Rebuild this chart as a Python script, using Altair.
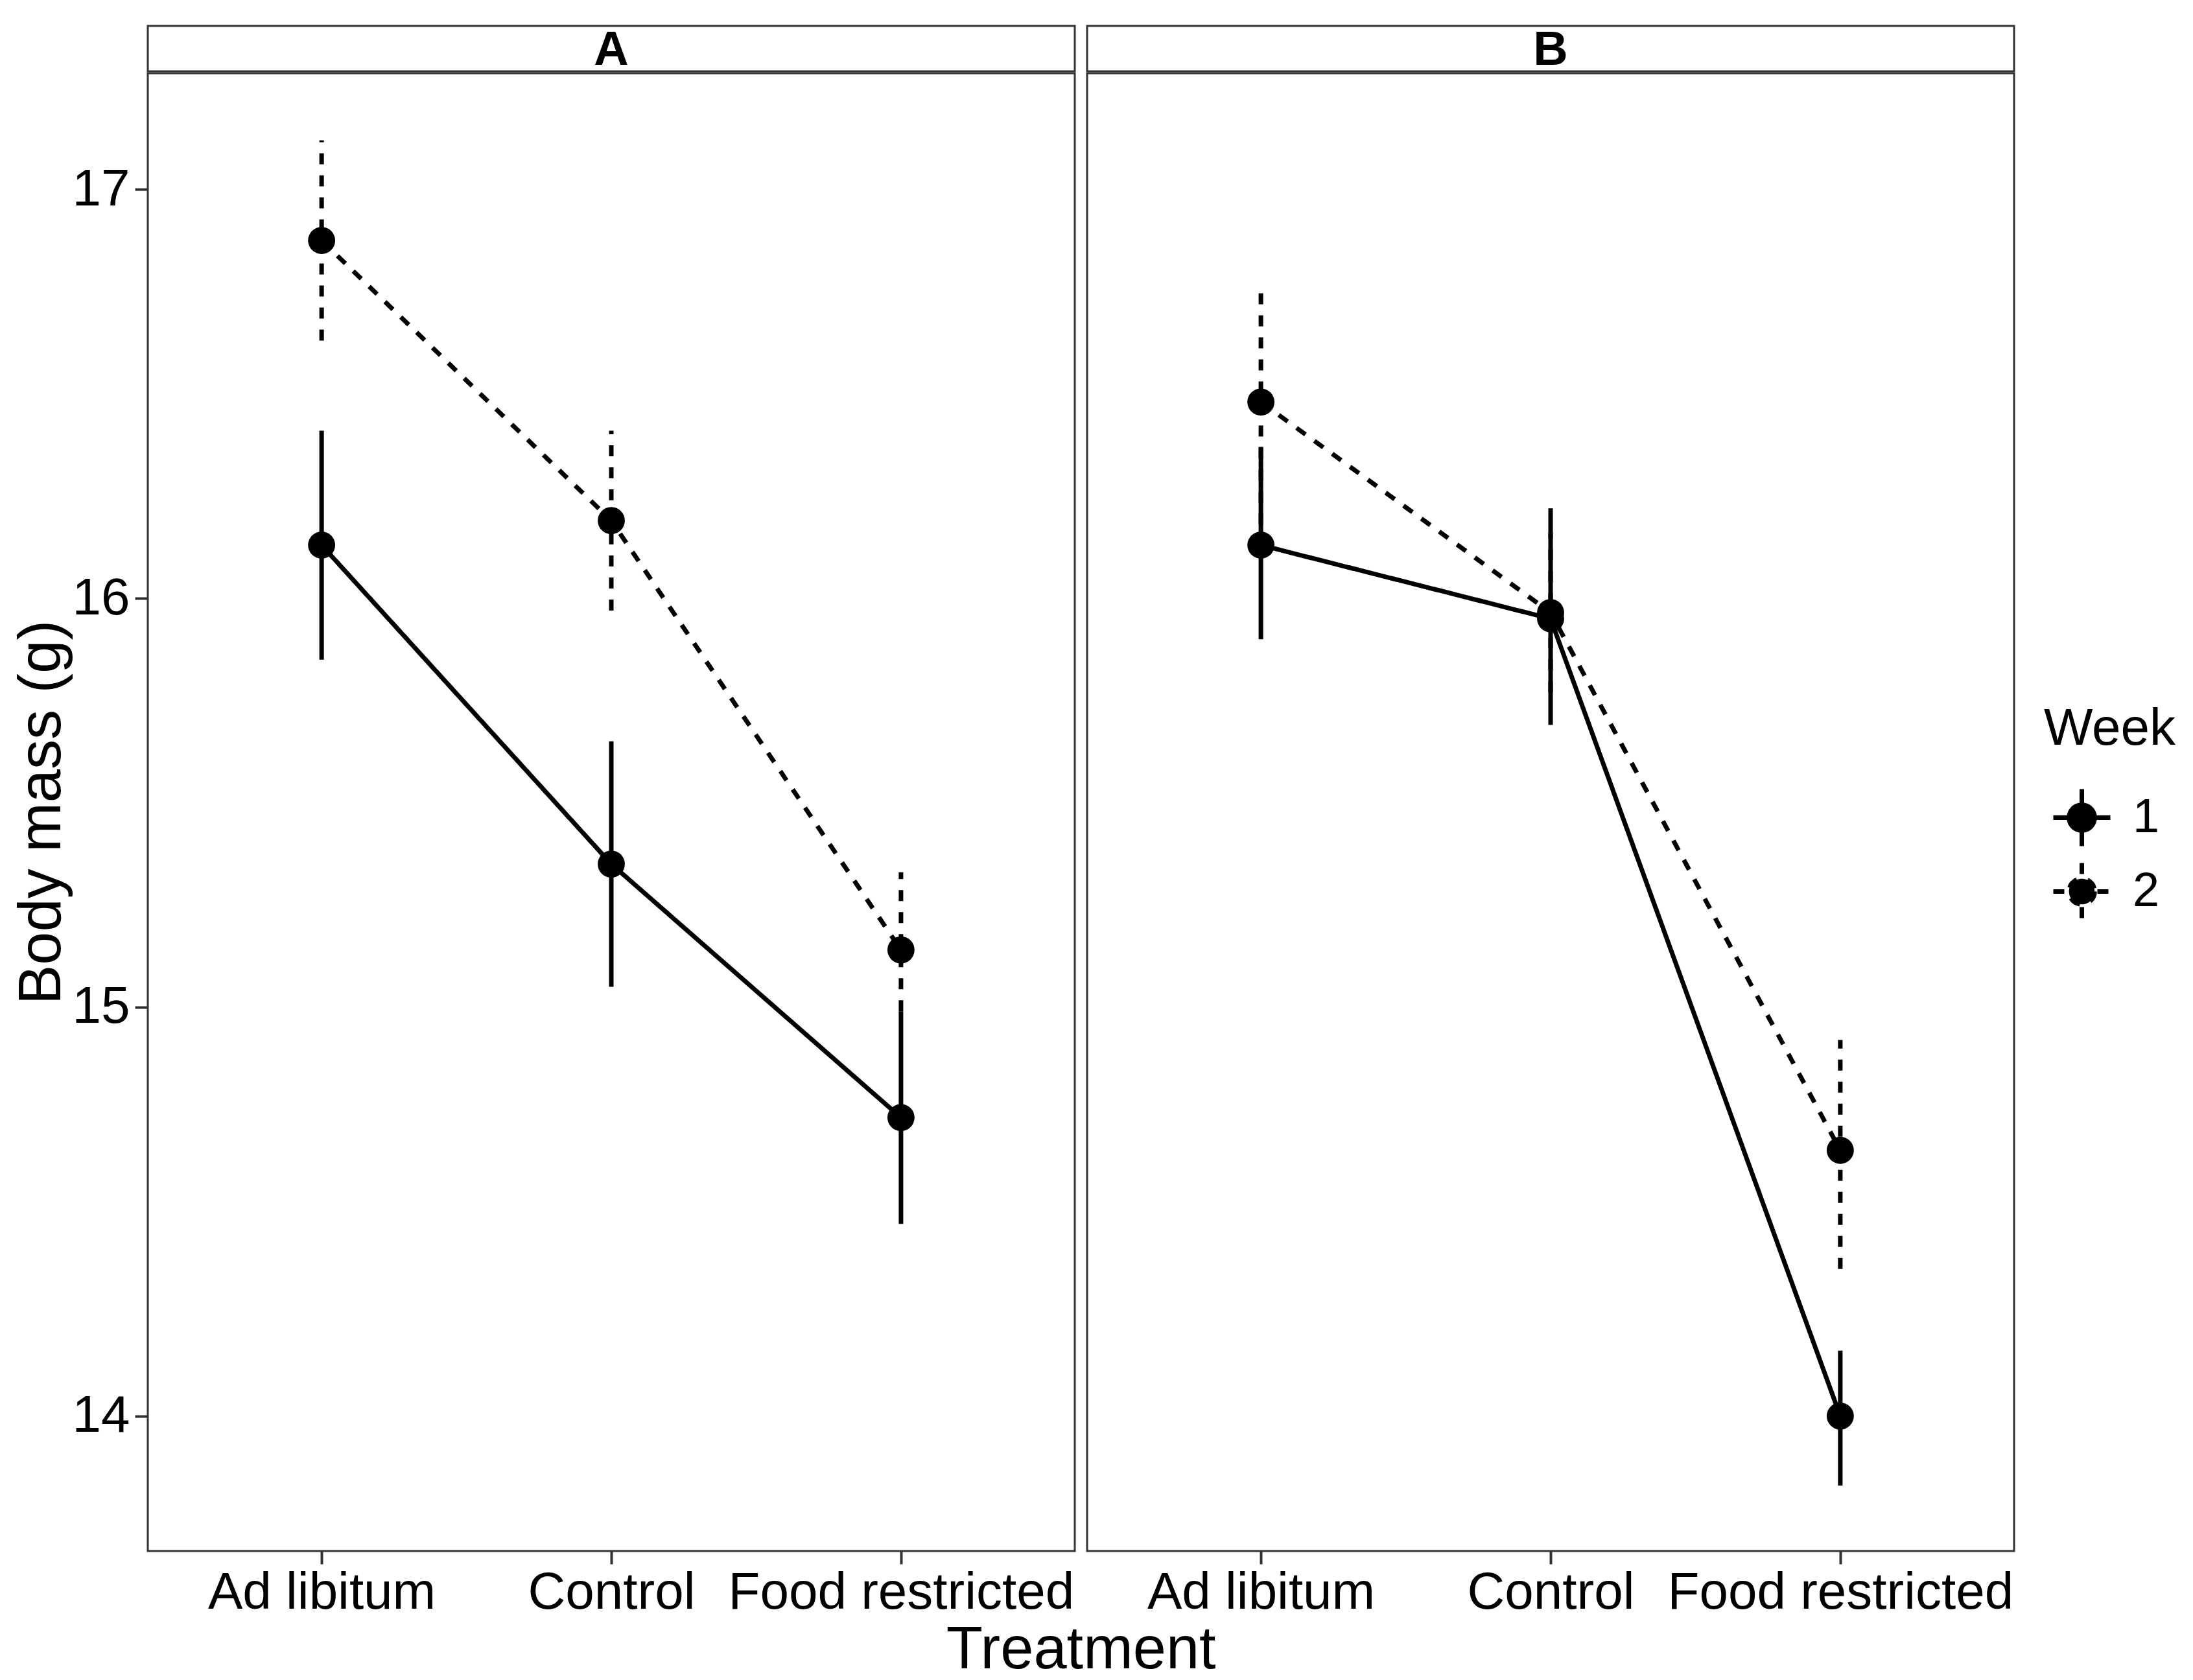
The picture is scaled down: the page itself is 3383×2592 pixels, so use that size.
import altair as alt
import pandas as pd

FONT = "Liberation Sans"

treatments = ["Ad libitum", "Control", "Food restricted"]
weeks = ["1", "2"]
panels = ["A", "B"]

# Panel A
a_w1_mean = [16.13, 15.35, 14.73]
a_w1_lo = [15.85, 15.05, 14.47]
a_w1_hi = [16.41, 15.65, 14.99]
a_w2_mean = [16.875, 16.19, 15.14]
a_w2_lo = [16.63, 15.97, 14.99]
a_w2_hi = [17.12, 16.41, 15.33]
# Panel B
b_w1_mean = [16.13, 15.95, 14.00]
b_w1_lo = [15.90, 15.69, 13.83]
b_w1_hi = [16.37, 16.22, 14.16]
b_w2_mean = [16.48, 15.965, 14.65]
b_w2_lo = [16.18, 15.77, 14.36]
b_w2_hi = [16.77, 16.16, 14.92]

y_domain = [13.67, 17.284]
y_ticks = [14, 15, 16, 17]


def make_df(w1m, w1l, w1h, w2m, w2l, w2h):
    rows = []
    for wk, m, l, h in (("1", w1m, w1l, w1h), ("2", w2m, w2l, w2h)):
        for t, mm, ll, hh in zip(treatments, m, l, h):
            rows.append({"treatment": t, "week": wk, "mean": mm, "lo": ll, "hi": hh})
    return pd.DataFrame(rows)


df_a = make_df(a_w1_mean, a_w1_lo, a_w1_hi, a_w2_mean, a_w2_lo, a_w2_hi)
df_b = make_df(b_w1_mean, b_w1_lo, b_w1_hi, b_w2_mean, b_w2_lo, b_w2_hi)

PW = 1430
PH = 2280
SH = 70
LW = 7

SYMBOL = "M-1,0H1M0,-1V1M0.45,0A0.45,0.45,0,1,1,-0.45,0A0.45,0.45,0,1,1,0.45,0Z"


def panel(name, df, show_y):
    xenc = alt.X(
        "treatment:N",
        scale=alt.Scale(type="point", domain=treatments, padding=0.6),
        axis=alt.Axis(title=None, labelAngle=0, labelPadding=5, labelLimit=0),
    )
    yscale = alt.Scale(domain=y_domain, nice=False, zero=False)
    if show_y:
        yaxis = alt.Axis(values=y_ticks, title="Body mass (g)", labelPadding=8,
                         titlePadding=0, format="d", labelLimit=0, titleLimit=0)
    else:
        yaxis = None
    dash = alt.StrokeDash(
        "week:N",
        scale=alt.Scale(domain=weeks, range=[[1, 0], [17, 17]]),
        legend=alt.Legend(
            title="Week", orient="none", legendX=2925, legendY=1046,
            symbolType=SYMBOL, symbolSize=7744, symbolStrokeWidth=LW,
            symbolFillColor="black", symbolStrokeColor="black",
            titleFontSize=80, titleFontWeight="normal", titleFont=FONT,
            titleColor="black", labelFontSize=74, labelFont=FONT,
            labelColor="black", titlePadding=48, rowPadding=-3,
            labelOffset=31, symbolOffset=11, padding=0,
            titleLimit=0, labelLimit=0,
        ),
    )
    base = alt.Chart(df)
    rules = base.mark_rule(strokeWidth=LW, color="black").encode(
        x=xenc,
        y=alt.Y("lo:Q", scale=yscale, axis=yaxis),
        y2="hi:Q",
        strokeDash=dash,
    )
    lines = base.mark_line(strokeWidth=LW, color="black").encode(
        x=xenc,
        y=alt.Y("mean:Q", scale=yscale, axis=yaxis),
        strokeDash=dash,
        detail="week:N",
    )
    points = base.mark_point(filled=True, size=1750, color="black", opacity=1).encode(
        x=xenc,
        y=alt.Y("mean:Q", scale=yscale, axis=yaxis),
    )
    plot = alt.layer(rules, lines, points).properties(width=PW, height=PH)

    strip = alt.Chart(pd.DataFrame({"panel": [name]})).mark_text(
        fontSize=74, fontWeight="bold", font=FONT, color="black", baseline="top"
    ).encode(
        text="panel:N",
        x=alt.value(PW / 2),
        y=alt.value(2),
    ).properties(width=PW, height=SH)
    return alt.vconcat(strip, plot, spacing=3, bounds="flush")


chart = alt.hconcat(
    panel("A", df_a, True), panel("B", df_b, False), spacing=15
).properties(
    title=alt.TitleParams(
        text="Treatment", orient="bottom", anchor="middle", frame="bounds",
        fontSize=92, fontWeight="normal", font=FONT, color="black", offset=2,
        dx=-19,
    ),
    padding={"left": 8, "top": 30, "right": 0, "bottom": 0},
    background="white",
).configure_view(
    stroke="#333333", strokeWidth=3, fill="white"
).configure_axis(
    domain=False, grid=False, ticks=True, tickColor="#333333", tickWidth=4,
    tickSize=20, labelFont=FONT, labelFontSize=80, labelColor="black",
    titleFont=FONT, titleFontSize=92, titleFontWeight="normal", titleColor="black",
)

chart.save("out.html", embed_options={"renderer": "svg", "actions": False})
